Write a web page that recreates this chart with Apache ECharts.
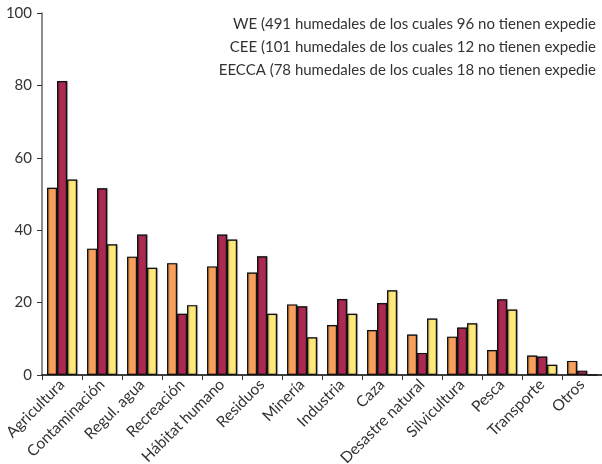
<!DOCTYPE html>
<html><head><meta charset="utf-8">
<script src="https://cdn.jsdelivr.net/npm/echarts@6/dist/echarts.min.js"></script>
<style>html,body{margin:0;padding:0;background:#fff}#c{width:602px;height:464px}</style>
</head><body><div id="c"></div>
<script>
const categories = ["Agricultura","Contaminación","Regul. agua","Recreación","Hábitat humano","Residuos","Minería","Industria","Caza","Desastre natural","Silvicultura","Pesca","Transporte","Otros"];
const seriesNames = ["WE (491 humedales de los cuales 96 no tienen expedie","CEE (101 humedales de los cuales 12 no tienen expedie","EECCA (78 humedales de los cuales 18 no tienen expedie"];
const valuesWE = [51.7,34.9,32.7,30.9,30.0,28.3,19.5,13.8,12.4,11.2,10.6,6.9,5.4,3.9];
const valuesCEE = [81.2,51.6,38.8,16.9,38.8,32.8,19.0,21.0,19.9,6.1,13.1,20.9,5.1,1.2];
const valuesEECCA = [54.0,36.1,29.6,19.3,37.4,16.9,10.4,16.9,23.4,15.6,14.3,18.1,2.8,0];
const yTicks = {min:0,max:100,interval:20};
const colors = ["#F8A05B","#AC2A51","#FFE87A"];
const allValues = [valuesWE, valuesCEE, valuesEECCA];

const chart = echarts.init(document.getElementById('c'), null, {renderer:'canvas'});
chart.setOption({
  animation:false,
  textStyle:{fontFamily:'Lato, "Noto Sans", sans-serif'},
  legend:{
    orient:'vertical', right:0, top:12, align:'right', itemGap:8,
    itemWidth:0, itemHeight:0, icon:'rect', selectedMode:false,
    textStyle:{fontSize:15, color:'#333', fontFamily:'Lato, "Noto Sans", sans-serif', padding:[0,-5,0,0]},
    data:seriesNames
  },
  grid:{left:42, right:0, top:13, bottom:89, containLabel:false, outerBoundsMode:'none'},
  xAxis:{
    type:'category', data:categories,
    axisLine:{lineStyle:{color:'#000', width:1.5}},
    axisTick:{show:true, length:5, lineStyle:{color:'#333'}},
    axisLabel:{rotate:45, fontSize:15.5, color:'#333', margin:7, interval:0}
  },
  yAxis:{
    type:'value', min:yTicks.min, max:yTicks.max, interval:yTicks.interval,
    axisLine:{show:true, lineStyle:{color:'#666', width:1.5}},
    axisTick:{show:true, length:5, lineStyle:{color:'#333'}},
    splitLine:{show:false},
    axisLabel:{fontSize:15, color:'#333', margin:10}
  },
  series: seriesNames.map((n,i)=>({
    name:n, type:'bar', data:allValues[i], barWidth:10, barGap:'0%',
    itemStyle:{color:colors[i], borderColor:'#111', borderWidth:1.2,
      shadowColor:'rgba(0,0,0,0.35)', shadowOffsetX:1, shadowOffsetY:0, shadowBlur:1}
  }))
});
</script></body></html>
